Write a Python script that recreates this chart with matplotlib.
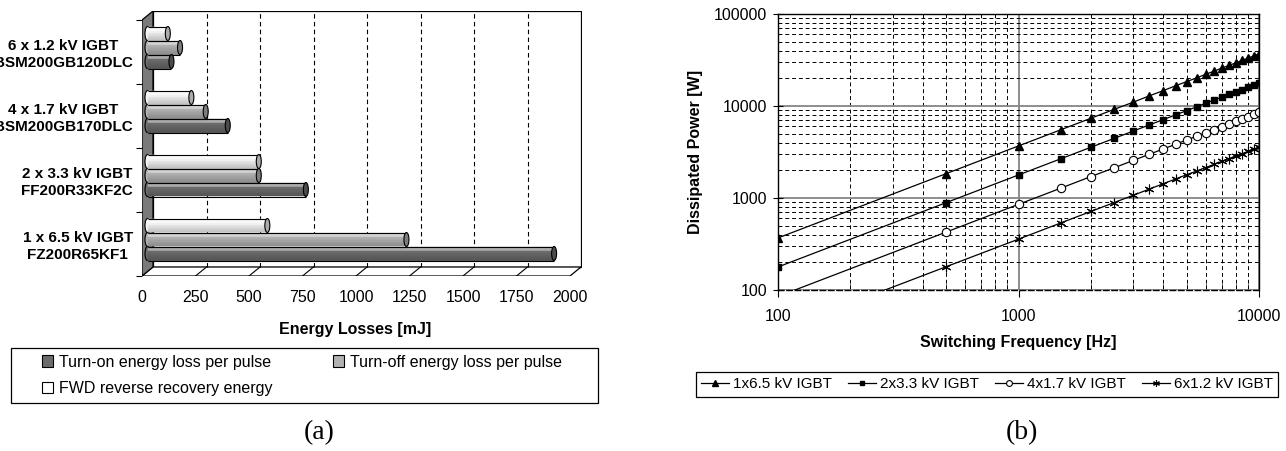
import matplotlib
matplotlib.use("Agg")
import matplotlib.pyplot as plt
from matplotlib.patches import Polygon, Rectangle, Ellipse, Patch
from matplotlib.ticker import LogLocator, NullFormatter, FixedLocator
from matplotlib.colors import to_rgb

plt.rcParams['font.family'] = ['Liberation Sans', 'DejaVu Sans']

# (a) switching energies per module type
modules = ['1 x 6.5 kV IGBT\nFZ200R65KF1', '2 x 3.3 kV IGBT\nFF200R33KF2C',
           '4 x 1.7 kV IGBT\nBSM200GB170DLC', '6 x 1.2 kV IGBT\nBSM200GB120DLC']
e_on = [1900, 740, 375, 112]
e_off = [1210, 520, 272, 152]
e_rec = [560, 520, 205, 95]
energy_ticks = [0, 250, 500, 750, 1000, 1250, 1500, 1750, 2000]

# (b) dissipated power vs switching frequency
freq = [100, 500, 1000, 1500, 2000, 2500, 3000, 3500, 4000, 4500, 5000,
        5500, 6000, 6500, 7000, 7500, 8000, 8500, 9000, 9500, 10000]
p_65 = [368, 1840, 3680, 5520, 7360, 9200, 11000, 12900, 14700, 16600, 18400,
        20200, 22100, 23900, 25800, 27600, 29400, 31300, 33100, 35000, 36800]
p_33 = [178, 890, 1780, 2670, 3560, 4450, 5340, 6230, 7120, 8010, 8900,
        9790, 10700, 11600, 12500, 13400, 14200, 15100, 16000, 16900, 17800]
p_17 = [85, 426, 853, 1280, 1710, 2130, 2560, 2990, 3410, 3840, 4270,
        4690, 5120, 5540, 5970, 6400, 6820, 7250, 7680, 8100, 8530]
p_12 = [36, 179, 357, 536, 714, 893, 1070, 1250, 1430, 1610, 1790,
        1960, 2140, 2320, 2500, 2680, 2860, 3030, 3210, 3390, 3570]

W, H = 1286, 451
fig = plt.figure(figsize=(W / 100, H / 100), dpi=100)


def px_axes(x0, y0, x1, y1):
    return fig.add_axes([x0 / W, 1 - y1 / H, (x1 - x0) / W, (y1 - y0) / H])


def mix(c, other, t):
    c, o = to_rgb(c), to_rgb(other)
    return tuple(a + (b - a) * t for a, b in zip(c, o))


# ---------------- (a) pseudo-3D bar chart ----------------
ax1 = px_axes(142, 11, 582, 276)
xscale = 428 / 2000.0          # px per mJ on the front axis
dx = 11 / xscale               # depth offset in mJ
dy = 9 / 64.0                  # depth offset in category units
ax1.set_xlim(0, 440 / xscale)
ax1.set_ylim(0, 4 + dy)
for s in ax1.spines.values():
    s.set_visible(False)
ax1.patch.set_alpha(0)

xmax = energy_ticks[-1]
n_cat = len(modules)
ax1.add_patch(Rectangle((dx, dy), xmax, n_cat, facecolor='white',
                        edgecolor='black', lw=0.9, zorder=0.5))
ax1.add_patch(Polygon([(0, 0), (xmax, 0), (xmax + dx, dy), (dx, dy)],
                      closed=True, facecolor='white', edgecolor='black',
                      lw=0.9, zorder=0.6))
ax1.add_patch(Polygon([(0, 0), (dx, dy), (dx, n_cat + dy), (0, n_cat)],
                      closed=True, facecolor='#7a7a7a', edgecolor='black',
                      lw=0.9, zorder=0.7))
for v in energy_ticks[1:-1]:
    ax1.plot([v + dx, v + dx], [dy, n_cat + dy], color='black', lw=0.8,
             dashes=(4, 3), zorder=0.8)
    ax1.plot([v, v + dx], [0, dy], color='black', lw=0.8, zorder=0.8)

bar_h = 14 / 64.0
n_strip = 9
series = [(e_rec, '#f4f4f4', +bar_h), (e_off, '#b2b2b2', 0.0),
          (e_on, '#6c6c6c', -bar_h)]
cap_w = 5 / xscale
x0 = dx / 2
for vals, base, off in series:
    yc = [i + 0.5 + dy / 2 + off for i in range(n_cat)]
    # rounded hidden end on the left
    for y, v in zip(yc, vals):
        ax1.add_patch(Ellipse((x0, y), cap_w, bar_h, facecolor=base,
                              edgecolor='black', lw=0.8, zorder=2))
    # shaded cylinder body built from thin horizontal strips
    for k in range(n_strip):
        t = (k + 0.5) / n_strip
        if t < 0.35:
            col = mix(base, 'white', 0.55 * (1 - abs(t - 0.22) / 0.25))
        else:
            col = mix(base, 'black', 0.22 * (t - 0.35) / 0.65)
        yk = [y + bar_h / 2 - (k + 0.5) * bar_h / n_strip for y in yc]
        ax1.barh(yk, vals, left=x0, height=bar_h / n_strip, color=col,
                 edgecolor=col, lw=0.3, zorder=3)
    ax1.hlines([y + bar_h / 2 for y in yc], x0, [x0 + v for v in vals],
               color='black', lw=0.8, zorder=4)
    ax1.hlines([y - bar_h / 2 for y in yc], x0, [x0 + v for v in vals],
               color='black', lw=0.8, zorder=4)
    for y, v in zip(yc, vals):
        ax1.add_patch(Ellipse((x0 + v, y), cap_w, bar_h,
                              facecolor=mix(base, 'black', 0.3),
                              edgecolor='black', lw=0.8, zorder=5))

ax1.set_xticks(energy_ticks)
ax1.set_xticklabels([str(v) for v in energy_ticks], fontsize=11.5)
ax1.tick_params(axis='x', length=0, pad=10)
ax1.set_yticks([i + 0.5 for i in range(n_cat)])
ax1.set_yticklabels(modules, fontsize=11, fontweight='bold')
for t in ax1.get_yticklabels():
    t.set_multialignment('center')
ax1.yaxis.set_minor_locator(FixedLocator(list(range(n_cat + 1))))
ax1.tick_params(axis='y', which='major', length=0, pad=6.5)
ax1.tick_params(axis='y', which='minor', length=4, width=0.8, color='black')
ax1.set_xlabel('Energy Losses [mJ]', fontsize=11.5, fontweight='bold')
ax1.xaxis.set_label_coords((355 - 142) / 440, (276 - 322) / 265)

leg_a = [Patch(facecolor='#6c6c6c', edgecolor='black', lw=0.8,
               label='Turn-on energy loss per pulse'),
         Patch(facecolor='white', edgecolor='black', lw=0.8,
               label='FWD reverse recovery energy'),
         Patch(facecolor='#b2b2b2', edgecolor='black', lw=0.8,
               label='Turn-off energy loss per pulse')]
fig.patches.append(Rectangle((11 / W, 1 - 403 / H), 587 / W, 55 / H,
                             transform=fig.transFigure, facecolor='white',
                             edgecolor='black', lw=0.9, zorder=0))
fig.legend(handles=leg_a, ncol=2, fontsize=11.5, frameon=False,
           loc='center left', bbox_to_anchor=(42 / W, 1 - 375.5 / H),
           borderaxespad=0, borderpad=0, handlelength=0.7, handleheight=0.7,
           handletextpad=0.35, labelspacing=0.75, columnspacing=3.8)

# ---------------- (b) log-log power curves ----------------
ax2 = px_axes(778, 14, 1259, 290)
ax2.set_xscale('log')
ax2.set_yscale('log')
ax2.set_xlim(100, 10000)
ax2.set_ylim(100, 100000)

ax2.plot(freq, p_65, color='black', lw=0.9, marker='^', ms=5.5,
         label='1x6.5 kV IGBT')
ax2.plot(freq, p_33, color='black', lw=0.9, marker='s', ms=4.5,
         label='2x3.3 kV IGBT')
ax2.plot(freq, p_17, color='black', lw=0.9, marker='o', ms=6,
         mfc='white', mec='black', mew=0.8, label='4x1.7 kV IGBT')
ax2.plot(freq, p_12, color='black', lw=0.9, marker=(6, 2, 0), ms=7,
         mew=0.8, label='6x1.2 kV IGBT')

ax2.xaxis.set_major_locator(FixedLocator([100, 1000, 10000]))
ax2.yaxis.set_major_locator(FixedLocator([100, 1000, 10000, 100000]))
ax2.xaxis.set_minor_locator(LogLocator(base=10, subs=range(2, 10)))
ax2.yaxis.set_minor_locator(LogLocator(base=10, subs=range(2, 10)))
ax2.xaxis.set_minor_formatter(NullFormatter())
ax2.yaxis.set_minor_formatter(NullFormatter())
ax2.set_xticklabels(['100', '1000', '10000'], fontsize=11.5)
ax2.set_yticklabels(['100', '1000', '10000', '100000'], fontsize=11.5)
ax2.grid(which='major', color='#858585', lw=1.3, ls='-')
ax2.grid(which='minor', color='black', lw=0.7, dashes=(4, 3))
ax2.tick_params(axis='x', which='major', direction='out', length=5, pad=9)
ax2.tick_params(axis='x', which='minor', direction='in', length=4)
ax2.tick_params(axis='y', which='major', direction='inout', length=7, pad=4.5)
ax2.tick_params(axis='y', which='minor', length=0)
for s in ax2.spines.values():
    s.set_color('black')
    s.set_linewidth(1.0)
ax2.spines['bottom'].set_linestyle((0, (4, 2)))

ax2.set_xlabel('Switching Frequency [Hz]', fontsize=11.5, fontweight='bold')
ax2.xaxis.set_label_coords(0.5, (290 - 335) / 276)
ax2.set_ylabel('Dissipated Power [W]', fontsize=11.5, fontweight='bold')
ax2.yaxis.set_label_coords((703 - 778) / 481, 0.5)

lb = ax2.legend(loc='center', ncol=4, fontsize=11,
                bbox_to_anchor=(987 / W, 1 - 384.5 / H), bbox_transform=fig.transFigure,
                fancybox=False, edgecolor='black', framealpha=1,
                handlelength=1.8, handletextpad=0.25, columnspacing=1.1,
                borderpad=0.35, markerscale=0.7, borderaxespad=0)
lb.get_frame().set_linewidth(0.9)

fig.text(319 / W, 1 - 433 / H, '(a)', family='Liberation Serif', fontsize=20,
         ha='center', va='center')
fig.text(1022 / W, 1 - 433 / H, '(b)', family='Liberation Serif', fontsize=20,
         ha='center', va='center')

fig.savefig('out.png', dpi=100)
